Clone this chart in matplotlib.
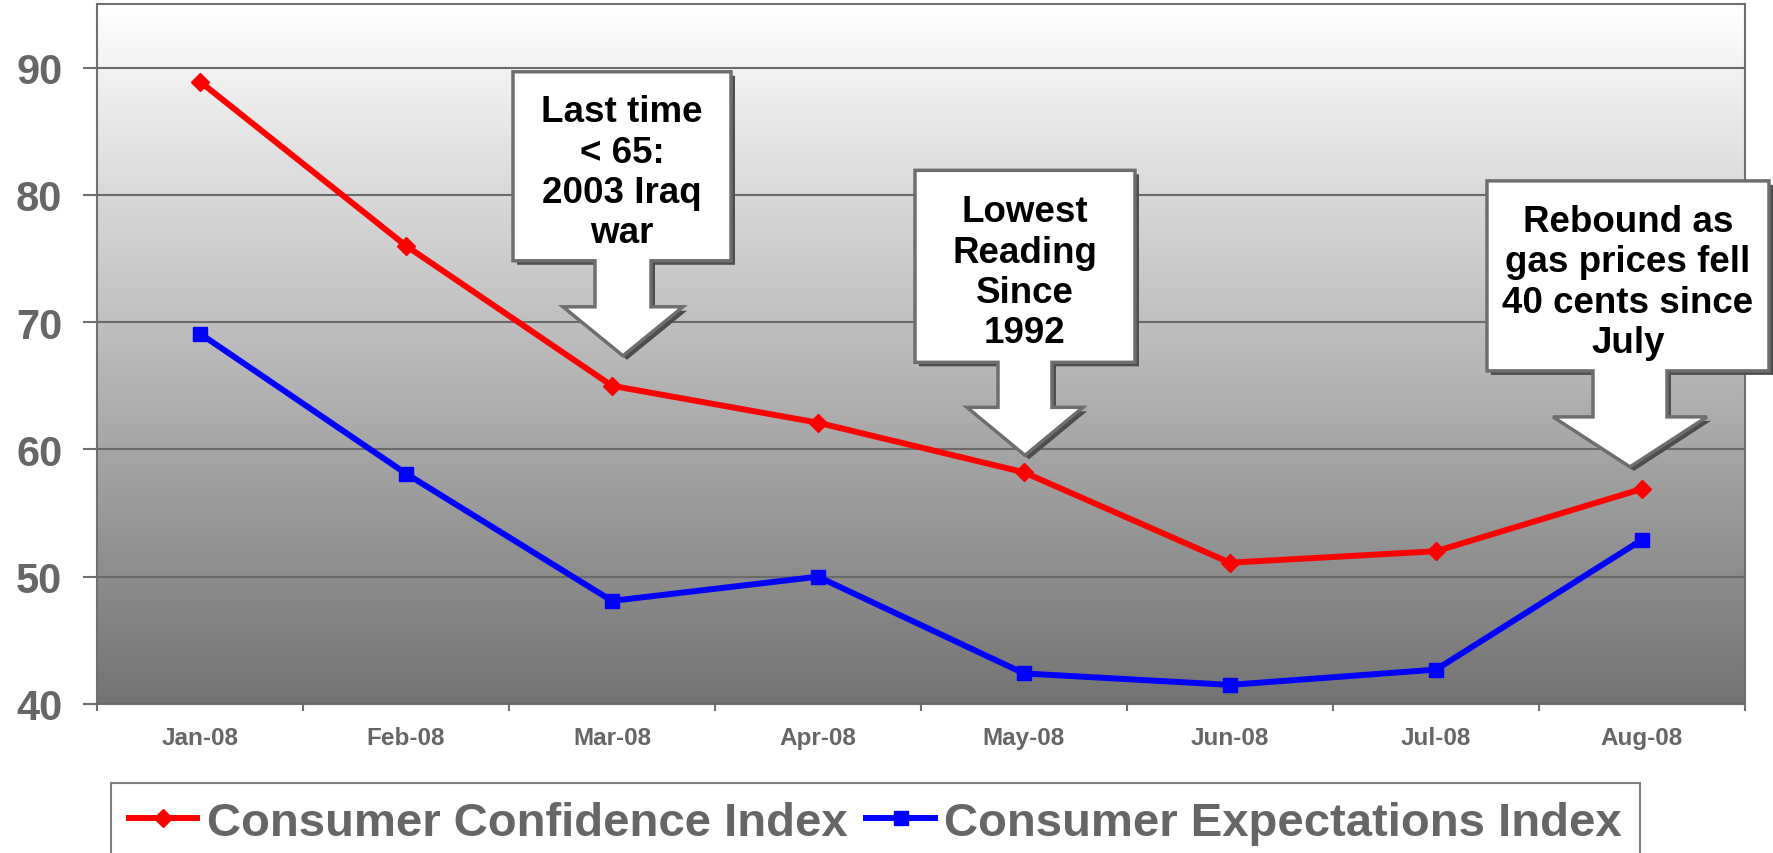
import numpy as np
import matplotlib.pyplot as plt
from matplotlib import font_manager
from matplotlib.patches import Polygon
from matplotlib.transforms import Affine2D, ScaledTranslation

# data
months = ['Jan-08', 'Feb-08', 'Mar-08', 'Apr-08', 'May-08', 'Jun-08', 'Jul-08', 'Aug-08']
confidence = [88.9, 76.0, 65.0, 62.1, 58.2, 51.1, 52.0, 56.9]
expectations = [69.1, 58.1, 48.1, 50.0, 42.4, 41.5, 42.7, 52.9]
y_ticks = [40, 50, 60, 70, 80, 90]

# callouts point at the confidence series
callout_months = ['Mar-08', 'May-08', 'Aug-08']
callout_texts = ['Last time\n< 65:\n2003 Iraq\nwar',
                 'Lowest\nReading\nSince\n1992',
                 'Rebound as\ngas prices fell\n40 cents since\nJuly']

# callout shape in pixels, relative to the arrow tip:
# (tip dx, tip dy, box left, box right, box bottom, box top, stem half width, stem bottom, head half width)
callout_geom = [
    (11, 30, -110, 108, 95, 284, 28, 49, 60),
    (1, 17, -110, 110, 93, 285, 27, 48, 58),
    (-12, 22, -143, 139, 96, 286, 37, 50, 77),
]

font_names = {f.name for f in font_manager.fontManager.ttflist}
main_font = 'Liberation Sans' if 'Liberation Sans' in font_names else 'DejaVu Sans'
plt.rcParams['font.family'] = [main_font, 'DejaVu Sans']

grey_text = '#666666'
line_grey = '#707070'

fig = plt.figure(figsize=(17.73, 8.54), dpi=100)
ax = fig.add_axes([0.0547, 0.1745, 0.9295, 0.8197])

x = np.arange(len(months))

# vertical grey gradient background
shade = np.linspace(255, 115, 256) / 255.0
grad = np.dstack([shade, shade, shade]).reshape(-1, 1, 3)
ax.imshow(grad, extent=(-0.5, len(months) - 0.5, 40, 95), aspect='auto', zorder=0)

ax.plot(x, confidence, color='#FF0000', lw=4.3, marker='D', ms=9,
        label='Consumer Confidence Index', zorder=3)
ax.plot(x, expectations, color='#0000FF', lw=4.3, marker='s', ms=10,
        label='Consumer Expectations Index', zorder=3)

ax.set_xlim(-0.5, len(months) - 0.5)
ax.set_ylim(40, 95)

ax.set_yticks(y_ticks)
ax.set_yticklabels([str(v) for v in y_ticks], fontsize=30, fontweight='bold', color=grey_text)
ax.tick_params(axis='y', length=10, width=1.5, color=line_grey, pad=15)
ax.yaxis.grid(True, color='#6a6a6a', lw=1.5, zorder=1)
ax.set_axisbelow(False)

ax.set_xticks(x)
ax.set_xticklabels(months, fontsize=17.5, fontweight='bold', color=grey_text)
ax.set_xticks(np.arange(len(months) + 1) - 0.5, minor=True)
ax.tick_params(axis='x', which='major', length=0, pad=16)
ax.tick_params(axis='x', which='minor', length=5, width=1.5, color=line_grey)

for sp in ax.spines.values():
    sp.set_color(line_grey)
    sp.set_linewidth(1.5)

# down-arrow callouts
for month, text, g in zip(callout_months, callout_texts, callout_geom):
    i = months.index(month)
    tdx, tdy, bl, br, bb, bt, sw, sb, hw = g
    verts = [(0, 0), (-hw, sb), (-sw, sb), (-sw, bb), (bl, bb), (bl, bt),
             (br, bt), (br, bb), (sw, bb), (sw, sb), (hw, sb)]
    base = ScaledTranslation(x[i], confidence[i], ax.transData)
    trans = Affine2D().translate(tdx, tdy) + base
    shadow_trans = Affine2D().translate(tdx + 4, tdy - 4) + base
    ax.add_patch(Polygon(verts, closed=True, transform=shadow_trans, facecolor='#4d4d4d',
                         edgecolor='none', clip_on=False, zorder=5))
    ax.add_patch(Polygon(verts, closed=True, transform=trans, facecolor='white',
                         edgecolor='#6e6e6e', lw=2.5, clip_on=False, zorder=6))
    ax.text((bl + br) / 2, (bb + bt) / 2 - 6, text, transform=trans, ha='center', va='center',
            fontsize=26.5, fontweight='bold', color='black', linespacing=1.2, zorder=7)

leg = fig.legend(loc='upper left', bbox_to_anchor=(0.0626, 0.082), ncol=2,
                 prop={'size': 34, 'weight': 'bold'}, labelcolor=grey_text,
                 borderaxespad=0, borderpad=0.38, handlelength=1.45, handletextpad=0.2,
                 columnspacing=0.4, fancybox=False, framealpha=1, edgecolor='#808080')
leg.get_frame().set_linewidth(1.5)

fig.savefig('out.png', dpi=100)
